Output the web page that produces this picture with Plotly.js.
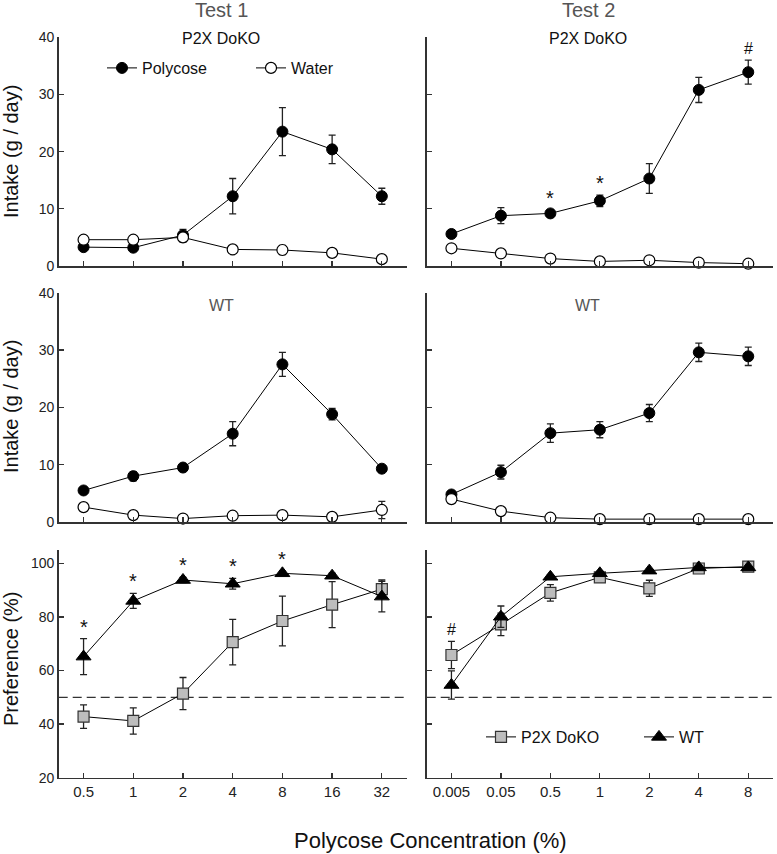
<!DOCTYPE html>
<html><head><meta charset="utf-8">
<script src="https://cdn.plot.ly/plotly-3.0.1.min.js"></script>
<style>html,body{margin:0;padding:0;background:#fff}#chart{width:777px;height:854px}</style>
</head><body><div id="chart"></div><script>
// ---- data ----
const test1Conc = ['0.5','1','2','4','8','16','32'];
const test2Conc = ['0.005','0.05','0.5','1','2','4','8'];

// Intake (g/day), P2X DoKO
const t1KoPoly = [3.3, 3.2, 5.4, 12.2, 23.5, 20.4, 12.2];
const t1KoPolyErr = [0.4, 0.5, 1.0, 3.1, 4.2, 2.5, 1.4];
const t1KoWater = [4.6, 4.6, 5.0, 2.9, 2.8, 2.3, 1.2];
const t1KoWaterErr = [0.3, 0.3, 0.8, 0.4, 0.8, 0.7, 0.3];
const t2KoPoly = [5.6, 8.8, 9.2, 11.4, 15.3, 30.8, 33.9];
const t2KoPolyErr = [0.4, 1.4, 0.6, 1.0, 2.6, 2.2, 2.1];
const t2KoWater = [3.1, 2.2, 1.3, 0.8, 1.0, 0.6, 0.4];
const t2KoWaterErr = [0.3, 0.3, 0.2, 0.2, 0.2, 0.2, 0.1];

// Intake (g/day), WT
const t1WtPoly = [5.5, 8.0, 9.5, 15.4, 27.5, 18.8, 9.3];
const t1WtPolyErr = [0.4, 0.8, 0.5, 2.1, 2.1, 1.0, 0.5];
const t1WtWater = [2.6, 1.2, 0.6, 1.1, 1.2, 0.9, 2.1];
const t1WtWaterErr = [0.3, 0.3, 0.2, 0.2, 0.3, 0.2, 1.5];
const t2WtPoly = [4.8, 8.7, 15.5, 16.1, 19.0, 29.6, 28.9];
const t2WtPolyErr = [0.4, 1.2, 1.6, 1.4, 1.5, 1.6, 1.6];
const t2WtWater = [4.0, 1.9, 0.75, 0.5, 0.5, 0.5, 0.5];
const t2WtWaterErr = [0.3, 0.2, 0.1, 0.1, 0.1, 0.1, 0.1];

// Preference (%)
const t1KoPref = [42.8, 41.2, 51.4, 70.6, 78.5, 84.6, 90.4];
const t1KoPrefErr = [4.4, 4.9, 6.0, 8.5, 9.3, 8.6, 3.4];
const t1WtPref = [65.2, 86.0, 93.8, 92.4, 96.3, 95.4, 87.6];
const t1WtPrefErr = [6.7, 2.8, 1.0, 2.0, 0.8, 1.0, 5.7];
const t2KoPref = [65.8, 77.2, 89.0, 94.8, 90.7, 98.1, 98.8];
const t2KoPrefErr = [5.1, 4.2, 3.1, 1.2, 3.0, 0.8, 0.6];
const t2WtPref = [54.6, 80.1, 95.0, 96.3, 97.3, 98.5, 98.5];
const t2WtPrefErr = [5.3, 4.0, 0.8, 0.8, 0.6, 0.5, 0.5];

// significance marks
const sigT2KoIntake = ['', '', '*', '*', '', '', '#'];
const sigT1Pref = ['*', '*', '*', '*', '*', '', ''];
const sigT2Pref = ['#', '', '', '', '', '', ''];

const intakeTicks = [0, 10, 20, 30, 40];
const prefTicks = [20, 40, 60, 80, 100];
const chanceLevel = 50;

// ---- layout helpers ----
const W = 777, H = 854;
const px = p => p / W, py = p => 1 - p / H;
const FONT = 'Liberation Sans, Arial, sans-serif';
const AX = '#333';

const colL = [px(58.7), px(406.7)], colR = [px(426.7), px(773)];
const row1 = [py(266), py(37.3)], row2 = [py(522), py(292.7)], row3 = [py(777.7), py(550)];

function xax(domain, anchor, labels, cats) {
  return {domain, anchor, type: 'category', range: [-0.5, 6.5],
    showline: true, linecolor: AX, linewidth: 1.5, ticks: 'inside', ticklen: 5, tickwidth: 1.3, tickcolor: AX,
    showgrid: false, zeroline: false, showticklabels: labels, tickvals: cats, ticktext: cats,
    tickfont: {family: FONT, size: 15, color: '#222'}, fixedrange: true};
}
function yax(domain, anchor, range, ticks, labels) {
  return {domain, anchor, range, tickvals: ticks, showline: true, linecolor: AX, linewidth: 1.5,
    ticks: 'inside', ticklen: 5, tickwidth: 1.3, tickcolor: AX, showgrid: false, zeroline: false,
    showticklabels: labels, tickfont: {family: FONT, size: 14, color: '#222'}, fixedrange: true};
}

const errStyle = (arr) => ({type: 'data', array: arr, visible: true, color: '#222', thickness: 1.3, width: 3.5});
const lineStyle = {color: '#000', width: 1};
const filled = {symbol: 'circle', size: 11, color: '#000', line: {color: '#000', width: 1}};
const open = {symbol: 'circle', size: 11, color: '#fff', line: {color: '#000', width: 1.2}};
const square = {symbol: 'square', size: 11, color: '#bdbdbd', line: {color: '#333', width: 1.2}};
const tri = {symbol: 'triangle-up', size: 13, color: '#000', line: {color: '#000', width: 1}};

function tr(x, y, err, marker, xa, ya, name, legend, show) {
  return {type: 'scatter', mode: 'lines+markers', x, y, error_y: errStyle(err), marker, line: lineStyle,
    xaxis: xa, yaxis: ya, name, legend, showlegend: !!show, cliponaxis: false, hoverinfo: 'skip'};
}

const data = [
  tr(test1Conc, t1KoPoly, t1KoPolyErr, filled, 'x', 'y', 'Polycose', 'legend', true),
  tr(test1Conc, t1KoWater, t1KoWaterErr, open, 'x', 'y', 'Water', 'legend', true),
  tr(test2Conc, t2KoPoly, t2KoPolyErr, filled, 'x2', 'y2', 'Polycose', 'legend', false),
  tr(test2Conc, t2KoWater, t2KoWaterErr, open, 'x2', 'y2', 'Water', 'legend', false),
  tr(test1Conc, t1WtPoly, t1WtPolyErr, filled, 'x3', 'y3', 'Polycose', 'legend', false),
  tr(test1Conc, t1WtWater, t1WtWaterErr, open, 'x3', 'y3', 'Water', 'legend', false),
  tr(test2Conc, t2WtPoly, t2WtPolyErr, filled, 'x4', 'y4', 'Polycose', 'legend', false),
  tr(test2Conc, t2WtWater, t2WtWaterErr, open, 'x4', 'y4', 'Water', 'legend', false),
  tr(test1Conc, t1KoPref, t1KoPrefErr, square, 'x5', 'y5', 'P2X DoKO', 'legend2', false),
  tr(test1Conc, t1WtPref, t1WtPrefErr, tri, 'x5', 'y5', 'WT', 'legend2', false),
  tr(test2Conc, t2KoPref, t2KoPrefErr, square, 'x6', 'y6', 'P2X DoKO', 'legend2', true),
  tr(test2Conc, t2WtPref, t2WtPrefErr, tri, 'x6', 'y6', 'WT', 'legend2', true)
];

const annotations = [];
function txt(x, y, text, size, color, angle) {
  annotations.push({xref: 'paper', yref: 'paper', x: px(x), y: py(y), text, showarrow: false,
    xanchor: 'center', yanchor: 'middle', textangle: angle || 0, font: {family: FONT, size, color}});
}
txt(221, 10, 'Test 1', 20, '#555');
txt(588, 10, 'Test 2', 20, '#555');
txt(221, 38, 'P2X DoKO', 16, '#111');
txt(588, 38, 'P2X DoKO', 16, '#111');
txt(221, 305, 'WT', 16, '#555');
txt(587, 305, 'WT', 16, '#555');
txt(11, 152, 'Intake (g / day)', 20, '#111', -90);
txt(11, 407, 'Intake (g / day)', 20, '#111', -90);
txt(11, 659, 'Preference (%)', 20, '#111', -90);
txt(430, 840, 'Polycose Concentration (%)', 22, '#111');

function sig(marks, xa, ya, series) {
  marks.forEach((m, i) => {
    if (!m) return;
    const top = Math.max(...series.map(s => s[0][i] + s[1][i]));
    annotations.push({xref: xa, yref: ya, x: i, y: top, text: m, showarrow: false,
      yanchor: 'middle', yshift: m === '*' ? 12 : 12, font: {family: FONT, size: m === '*' ? 20 : 16, color: '#111'}});
  });
}
sig(sigT2KoIntake, 'x2', 'y2', [[t2KoPoly, t2KoPolyErr]]);
sig(sigT1Pref, 'x5', 'y5', [[t1KoPref, t1KoPrefErr], [t1WtPref, t1WtPrefErr]]);
sig(sigT2Pref, 'x6', 'y6', [[t2KoPref, t2KoPrefErr], [t2WtPref, t2WtPrefErr]]);

const shapes = ['5', '6'].map(k => ({type: 'line', xref: 'x' + k + ' domain', yref: 'y' + k,
  x0: 0, x1: 1, y0: chanceLevel, y1: chanceLevel, line: {color: '#333', width: 1.4, dash: '9px,5px'}, layer: 'below'}));

const layout = {
  width: W, height: H, margin: {l: 0, r: 0, t: 0, b: 0, autoexpand: false},
  paper_bgcolor: '#fff', plot_bgcolor: 'rgba(0,0,0,0)',
  font: {family: FONT, color: '#111'},
  xaxis: xax(colL, 'y', false, test1Conc), yaxis: yax(row1, 'x', [0, 40], intakeTicks, true),
  xaxis2: xax(colR, 'y2', false, test2Conc), yaxis2: yax(row1, 'x2', [0, 40], intakeTicks, false),
  xaxis3: xax(colL, 'y3', false, test1Conc), yaxis3: yax(row2, 'x3', [0, 40], intakeTicks, true),
  xaxis4: xax(colR, 'y4', false, test2Conc), yaxis4: yax(row2, 'x4', [0, 40], intakeTicks, false),
  xaxis5: xax(colL, 'y5', true, test1Conc), yaxis5: yax(row3, 'x5', [20, 105], prefTicks, true),
  xaxis6: xax(colR, 'y6', true, test2Conc), yaxis6: yax(row3, 'x6', [20, 105], prefTicks, false),
  legend: {x: px(102), y: py(68), xanchor: 'left', yanchor: 'middle', orientation: 'h',
    font: {family: FONT, size: 16, color: '#111'}, bgcolor: 'rgba(0,0,0,0)', entrywidth: 104, itemclick: false},
  legend2: {x: px(481), y: py(737), xanchor: 'left', yanchor: 'middle', orientation: 'h',
    font: {family: FONT, size: 16, color: '#111'}, bgcolor: 'rgba(0,0,0,0)', entrywidth: 113, itemclick: false},
  annotations, shapes, showlegend: true
};

Plotly.newPlot('chart', data, layout, {staticPlot: true, displayModeBar: false});
</script></body></html>
